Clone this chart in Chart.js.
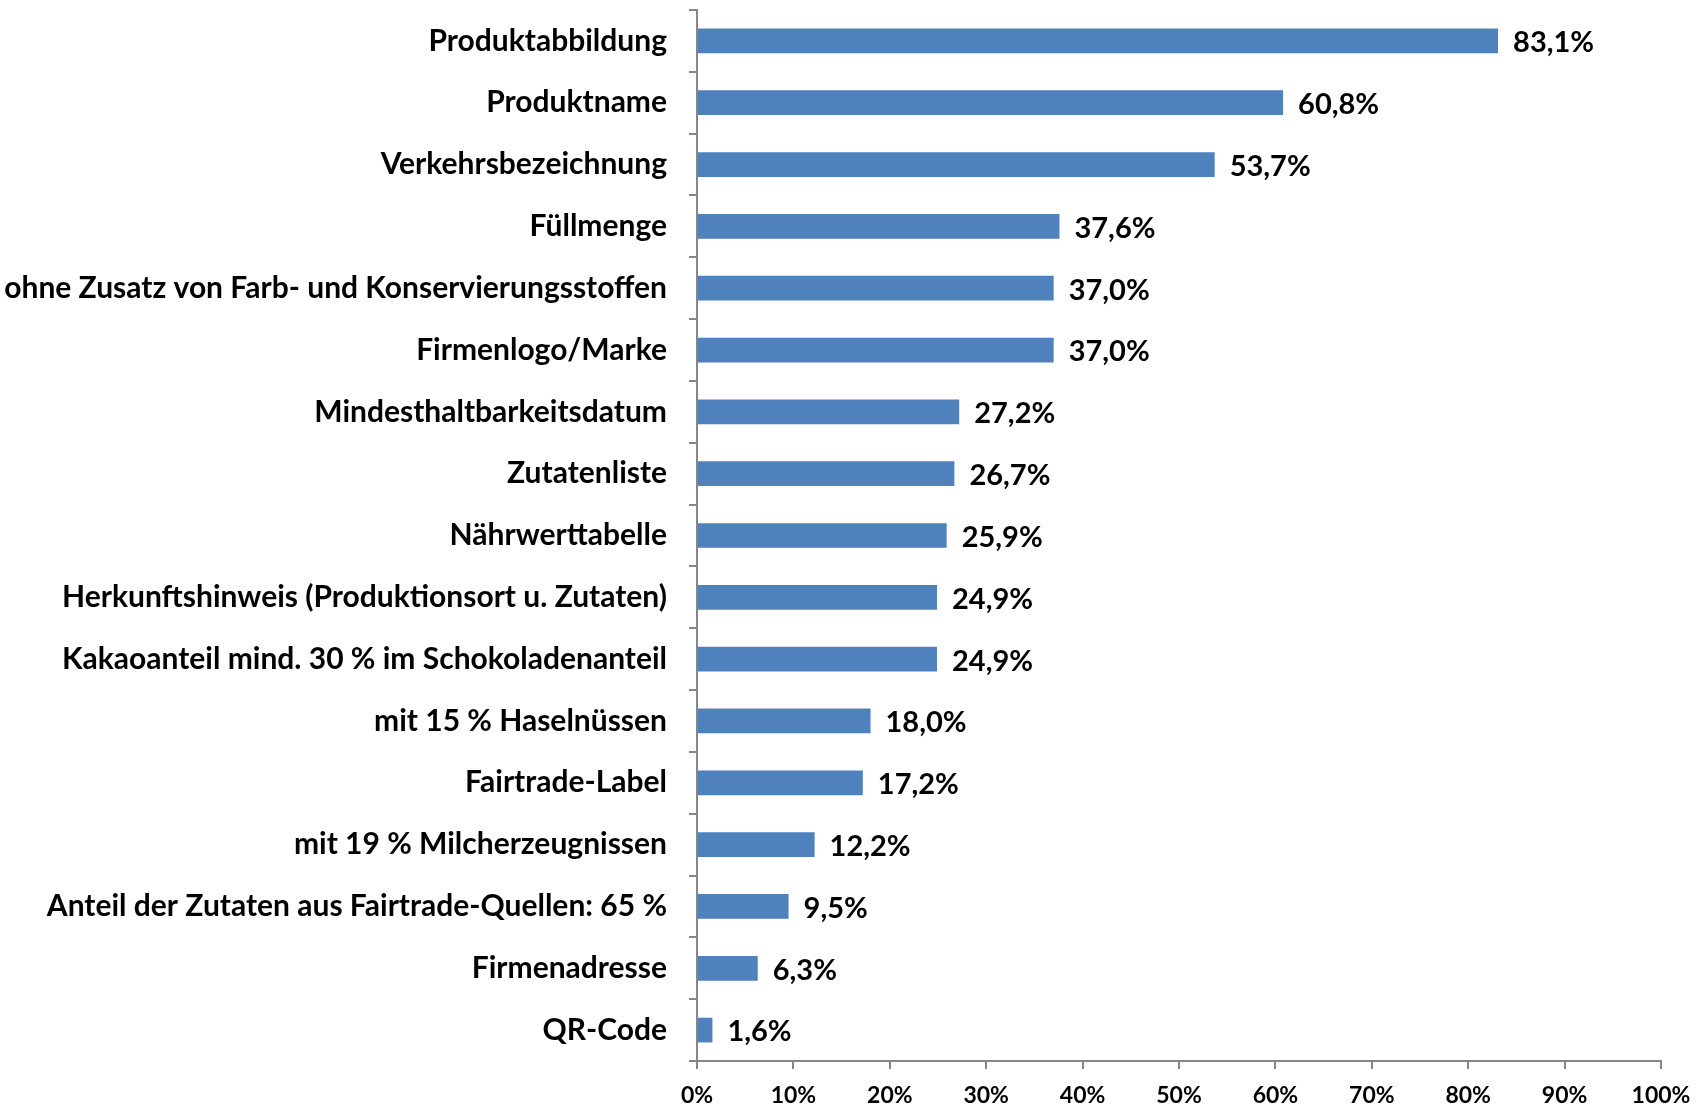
<!DOCTYPE html>
<html>
<head>
<meta charset="utf-8">
<script src="https://cdn.jsdelivr.net/npm/chart.js@4"></script>
<style>
  body { margin: 0; background: #ffffff; }
  #wrap { width: 1707px; height: 1108px; }
</style>
</head>
<body>
<div id="wrap"><canvas id="featureChart" width="1707" height="1108"></canvas></div>
<script>
// Merkmale auf der Verpackung
const categories = [
  'Produktabbildung',
  'Produktname',
  'Verkehrsbezeichnung',
  'Füllmenge',
  'ohne Zusatz von Farb- und Konservierungsstoffen',
  'Firmenlogo/Marke',
  'Mindesthaltbarkeitsdatum',
  'Zutatenliste',
  'Nährwerttabelle',
  'Herkunftshinweis (Produktionsort u. Zutaten)',
  'Kakaoanteil mind. 30 % im Schokoladenanteil',
  'mit 15 % Haselnüssen',
  'Fairtrade-Label',
  'mit 19 % Milcherzeugnissen',
  'Anteil der Zutaten aus Fairtrade-Quellen: 65 %',
  'Firmenadresse',
  'QR-Code'
];
const shares = [83.1, 60.8, 53.7, 37.6, 37.0, 37.0, 27.2, 26.7, 25.9, 24.9, 24.9, 18.0, 17.2, 12.2, 9.5, 6.3, 1.6];
const xTicks = [0, 10, 20, 30, 40, 50, 60, 70, 80, 90, 100];

const fmt = v => v.toFixed(1).replace('.', ',') + '%';

// Werte rechts neben die Balken schreiben
const valueLabels = {
  id: 'valueLabels',
  afterDatasetsDraw(chart) {
    const c = chart.ctx;
    const meta = chart.getDatasetMeta(0);
    c.save();
    c.font = 'bold 29px Lato';
    c.fillStyle = '#000000';
    c.textAlign = 'left';
    c.textBaseline = 'middle';
    meta.data.forEach((bar, i) => {
      c.fillText(fmt(shares[i]), bar.x + 15, bar.y + 2);
    });
    c.restore();
  }
};

const ctx = document.getElementById('featureChart');

new Chart(ctx, {
  type: 'bar',
  data: {
    labels: categories,
    datasets: [{
      data: shares,
      backgroundColor: '#4f81bd',
      borderWidth: 0,
      categoryPercentage: 1,
      barPercentage: 0.4
    }]
  },
  options: {
    indexAxis: 'y',
    responsive: false,
    animation: false,
    layout: { padding: { left: 0, right: 46, top: 10, bottom: 0 } },
    plugins: {
      legend: { display: false },
      tooltip: { enabled: false }
    },
    scales: {
      x: {
        min: 0,
        max: 100,
        afterBuildTicks: scale => { scale.ticks = xTicks.map(v => ({ value: v })); },
        afterFit: scale => { scale.height = 47; },
        border: { display: true, color: '#868686', width: 2 },
        grid: {
          drawOnChartArea: false,
          drawTicks: true,
          tickLength: 8,
          color: '#868686',
          lineWidth: 2
        },
        ticks: {
          color: '#000000',
          padding: 13,
          maxRotation: 0,
          font: { family: 'Lato', size: 23, weight: 'bold' },
          callback: v => v + '%'
        }
      },
      y: {
        afterFit: scale => {
          scale.width = 697;
          scale.paddingTop = 0;
          scale.paddingBottom = 0;
        },
        border: { display: true, color: '#868686', width: 2 },
        grid: {
          offset: true,
          drawOnChartArea: false,
          drawTicks: true,
          tickLength: 8,
          color: '#868686',
          lineWidth: 2
        },
        ticks: {
          color: '#000000',
          padding: 22,
          autoSkip: false,
          font: { family: 'Lato', size: 30, weight: 'bold' }
        }
      }
    }
  },
  plugins: [valueLabels]
});
</script>
</body>
</html>
